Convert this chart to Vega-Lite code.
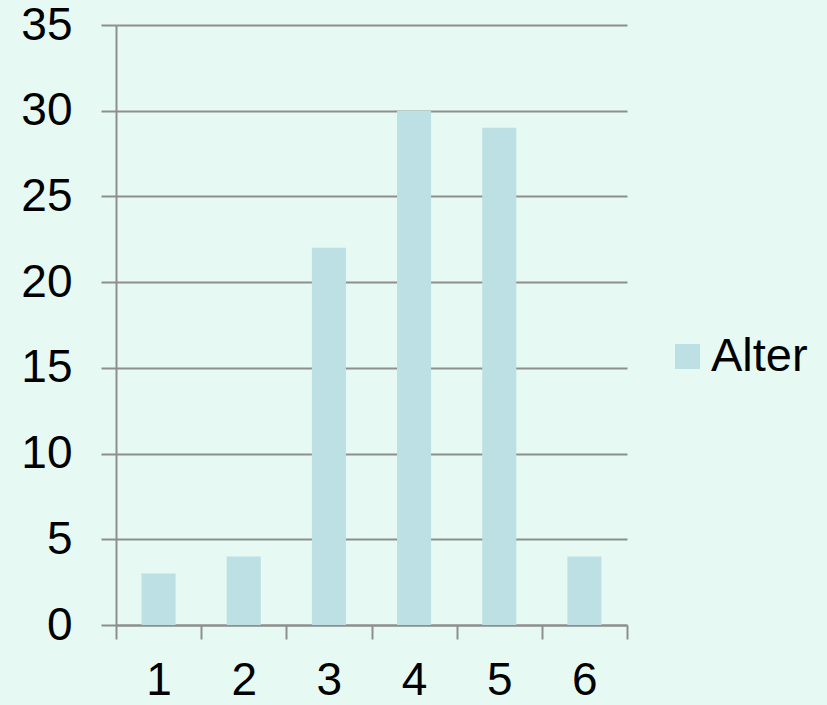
{
  "$schema": "https://vega.github.io/schema/vega-lite/v6.json",
  "width": 511,
  "height": 600,
  "autosize": {"type": "none"},
  "padding": {"left": 116, "top": 25, "right": 200, "bottom": 80},
  "background": "#E6FAF3",
  "data": {
    "values": [
      {"category": "1", "value": 3, "series": "Alter"},
      {"category": "2", "value": 4, "series": "Alter"},
      {"category": "3", "value": 22, "series": "Alter"},
      {"category": "4", "value": 30, "series": "Alter"},
      {"category": "5", "value": 29, "series": "Alter"},
      {"category": "6", "value": 4, "series": "Alter"}
    ]
  },
  "config": {
    "view": {"stroke": null},
    "font": "Liberation Sans",
    "axis": {
      "labelFont": "Liberation Sans",
      "labelFontSize": 46,
      "labelColor": "#000000",
      "domainColor": "#8E8E8E",
      "tickColor": "#8E8E8E",
      "gridColor": "#8E8E8E",
      "domainWidth": 2,
      "tickWidth": 2,
      "gridWidth": 1.8,
      "gridOpacity": 1,
      "title": null
    }
  },
  "mark": {"type": "bar", "color": "#BCE0E3", "width": {"band": 0.4}},
  "encoding": {
    "x": {
      "field": "category",
      "type": "ordinal",
      "scale": {"paddingInner": 0, "paddingOuter": 0},
      "axis": {
        "labelAngle": 0,
        "tickBand": "extent",
        "tickSize": 14,
        "labelPadding": 19,
        "grid": false,
        "domain": true
      }
    },
    "y": {
      "field": "value",
      "type": "quantitative",
      "scale": {"domain": [0, 35], "nice": false},
      "axis": {
        "values": [0, 5, 10, 15, 20, 25, 30, 35],
        "tickSize": 15,
        "labelPadding": 29,
        "grid": true,
        "domain": true
      }
    },
    "color": {
      "field": "series",
      "type": "nominal",
      "scale": {"range": ["#BCE0E3"]},
      "legend": {
        "title": null,
        "orient": "none",
        "legendX": 548,
        "legendY": 308,
        "padding": 0,
        "symbolType": "square",
        "symbolSize": 625,
        "symbolStrokeWidth": 0,
        "symbolOpacity": 1,
        "labelFontSize": 47,
        "labelFont": "Liberation Sans",
        "labelColor": "#000000",
        "labelOffset": 0
      }
    }
  }
}
